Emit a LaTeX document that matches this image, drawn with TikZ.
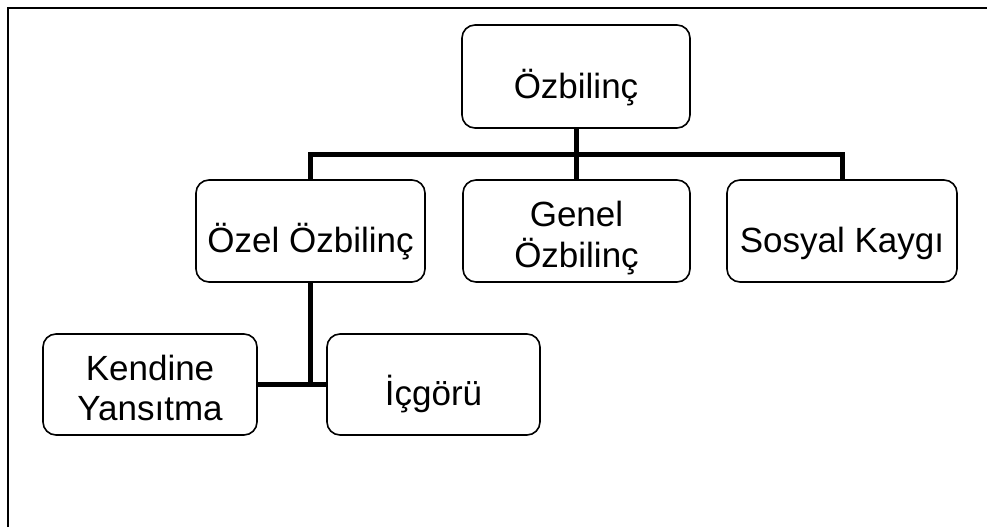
\documentclass[tikz,border=0pt]{standalone}
\usepackage{fontspec}
\setmainfont{Liberation Sans}
\newcommand\btext[3]{\raisebox{0pt}[#1][#2]{\begin{tabular}[t]{@{}c@{}}#3\end{tabular}}}
\begin{document}
\begin{tikzpicture}[x=1pt,y=-1pt,
  box/.style={draw=black, line width=1.6pt, rounded corners=13pt, inner sep=0pt, font=\fontsize{35}{40}\selectfont},
  conn/.style={draw=black, line width=5pt}]
\useasboundingbox (0,0) rectangle (987,527);
\fill[white] (0,0) rectangle (987,527);
\draw[line width=2.6pt] (8,527) -- (8,8) -- (987,8);
\node[box, minimum width=228pt, minimum height=103pt] (top) at (576,76.5) {\btext{43pt}{0pt}{Özbilinç}};
\node[box, minimum width=229pt, minimum height=102pt] (ozel) at (310.5,231) {\btext{42pt}{0pt}{Özel Özbilinç}};
\node[box, minimum width=227pt, minimum height=102pt] (genel) at (576.5,231) {\btext{0pt}{8.6pt}{Genel\\Özbilinç}};
\node[box, minimum width=230pt, minimum height=102pt] (sosyal) at (842,231) {\btext{42pt}{0pt}{Sosyal Kaygı}};
\node[box, minimum width=214pt, minimum height=101pt] (kendine) at (150,384.5) {\btext{0pt}{8.6pt}{Kendine\\Yansıtma}};
\node[box, minimum width=213pt, minimum height=101pt] (icgoru) at (433.5,384.5) {\btext{42pt}{0pt}{İçgörü}};
\coordinate (bar) at (0,154);
\draw[conn] (top.south) -- (top.south |- bar);
\draw[conn] (ozel.north) -- (ozel.north |- bar) -| (sosyal.north);
\draw[conn] (genel.north) -- (genel.north |- bar);
\coordinate (jn) at (ozel.south |- kendine.east);
\draw[conn] (ozel.south) -- (jn);
\draw[conn] (kendine.east) -- (icgoru.west);
\end{tikzpicture}
\end{document}
